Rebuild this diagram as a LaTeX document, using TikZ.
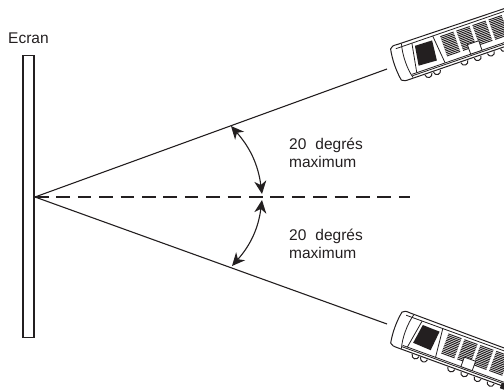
\documentclass[tikz,border=0pt]{standalone}
\usepackage{fontspec}
\setmainfont{Liberation Sans}
\usetikzlibrary{arrows.meta}
\definecolor{ink}{HTML}{231F20}
\tikzset{
  x=1pt,y=-1pt,
  beam/.style={draw=ink,line width=1.1pt},
  axisline/.style={draw=ink,line width=1.2pt,dash pattern=on 13.5pt off 7.9pt},
  screenbox/.style={draw=ink,line width=1.5pt},
  angarrow/.style={draw=ink,line width=1.1pt,{Stealth[length=13pt,width=12pt,inset=4pt]}-{Stealth[length=13pt,width=12pt,inset=4pt]}},
  lab/.style={text=ink,font=\fontsize{15.5}{18}\selectfont,align=left,inner sep=0pt},
  pout/.style={draw=ink,line width=1pt,fill=white,line join=round},
  pin/.style={draw=ink,line width=0.8pt},
  phatch/.style={draw=ink,line width=0.95pt}
}
% local coordinates: origin at the near lower corner of the projector, u along the body, v up
\newcommand{\projector}{%
  \begin{scope}[x=1pt,y=1pt]
  % feet
  \foreach \u in {24,33,62,76,90,104}{\draw[pout] (\u,-1) arc[start angle=180,end angle=360,radius=3.6];}
  % body
  \draw[pout] (0,2) .. controls (2,0) and (4,0) .. (8,0) -- (135,0) -- (135,36) -- (8,37) .. controls (4,37.5) and (1,37) .. (0,35) .. controls (-2,25) and (-2,12) .. (0,2) -- cycle;
  % inner outline
  \draw[pin] (12,0.5) .. controls (9,10) and (9,26) .. (12,36.5);
  \draw[pin] (5,33.5) -- (135,33.5);
  \draw[pin] (12,4) -- (135,4);
  \draw[pin] (12,2.5) -- (135,2.5);
  \draw[pin] (17,4) -- (22,33.5) (47,4) -- (44,33.5);
  % lens
  \fill[ink] (24,30) -- (42,29.5) -- (40,9) -- (21,10) -- cycle;
  % grilles
  \foreach \u in {51,68,85,102}{
    \foreach \v in {10,11.7,...,31}{\draw[phatch] (\u,\v) -- ++(14,0);}
  }
  % panel
  \draw[pout,line width=0.8pt] (74,4) rectangle (86,14);
  % dark end foot
  \fill[ink] (118,-3) -- (130,-3) -- (130,3) -- (118,3) -- cycle;
  \end{scope}}
\begin{document}
\begin{tikzpicture}
\useasboundingbox (0,0) rectangle (504,389);
\clip (0,0) rectangle (504,389);
\coordinate (apex) at (35,197);
\coordinate (beamtop) at (387,69);
\coordinate (beambot) at (387,324);
\coordinate (axisend) at (410,197);
\coordinate (uppera) at (231,126);
\coordinate (upperb) at (262,194);
\coordinate (lowera) at (262,200);
\coordinate (lowerb) at (232,266);
\node[screenbox,minimum width=11pt,minimum height=282pt,inner sep=0pt] (screen) at (28.5,196.5) {};
\node[lab,anchor=base west] (ecran) at (8,43) {Ecran};
\draw[beam] (apex) -- (beamtop);
\draw[beam] (apex) -- (beambot);
\draw[axisline] (apex) -- (axisend);
\draw[angarrow] (uppera) to[bend right=-17] (upperb);
\draw[angarrow] (lowera) to[bend right=-17] (lowerb);
\node[lab,anchor=north west] (t1) at (289,137.7) {20\hspace{9pt}degrés\\maximum};
\node[lab,anchor=north west] (t2) at (289,228.7) {20\hspace{9pt}degrés\\maximum};
\begin{scope}[shift={(402,82)},rotate=19]
\projector
\end{scope}
\begin{scope}[shift={(390,345)},rotate=-20]
\projector
\end{scope}
\end{tikzpicture}
\end{document}
